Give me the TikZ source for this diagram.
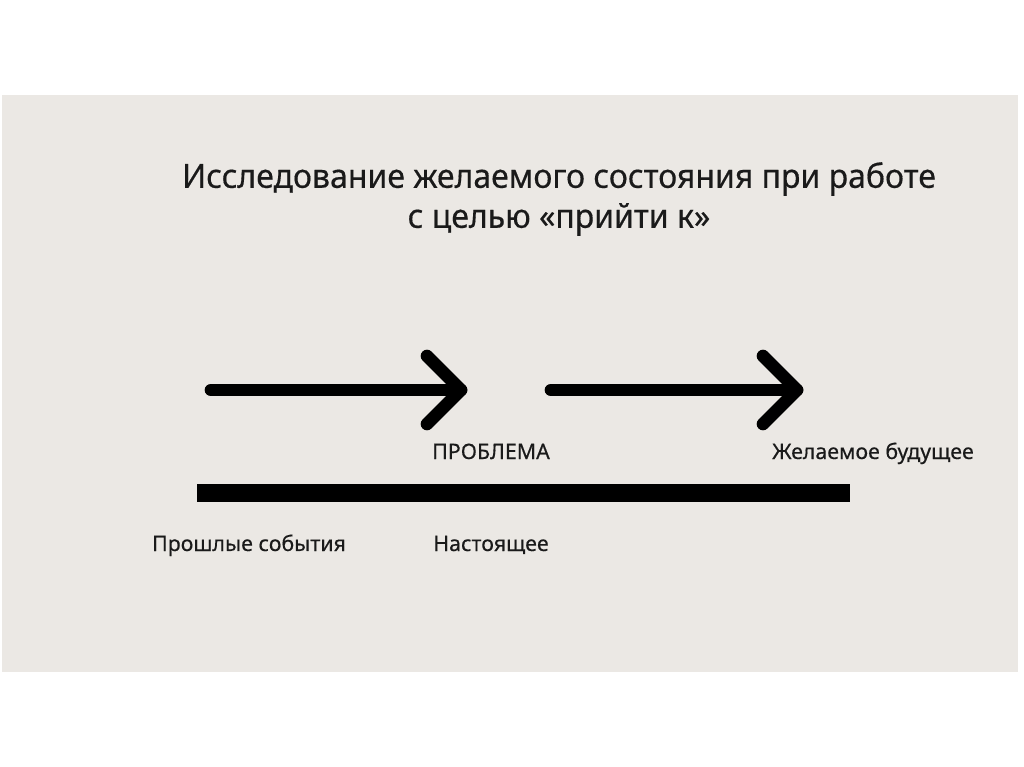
\documentclass[tikz,border=0pt]{standalone}
\usepackage{fontspec}
\setmainfont[FakeBold=0.4]{Noto Sans}
\newfontfamily\titlefont[FakeStretch=0.96,FakeBold=0.4]{Noto Sans}
\usepackage{xcolor}
\usetikzlibrary{positioning}
\definecolor{panelbg}{HTML}{EBE8E4}
\definecolor{inkdark}{HTML}{1A1A1A}

\begin{document}
\begin{tikzpicture}[
  x=0.75pt, y=-0.75pt,
  titletxt/.style={
    align=center, font=\titlefont\fontsize{25}{30}\selectfont, text=inkdark,
    inner sep=0pt
  },
  lbl/.style={
    font=\fontsize{16}{18}\selectfont, text=inkdark, inner sep=0pt,
    anchor=base
  },
  shaft/.style={line width=9.5pt, line cap=round, line join=round, black},
  timebar/.style={line width=13.5pt, black}
]

%=== PAGE AND PANEL ===
\useasboundingbox (0,0) rectangle (1024,767);
\fill[white] (0,0) rectangle (1024,767);
\fill[panelbg] (2,95) rectangle (1018,672);

%=== TITLE ===
\node[titletxt] (title) at (559,199)
  {Исследование желаемого состояния при работе\\с целью «прийти к»};

%=== ARROWS ===
\coordinate (a1s) at (211,390);
\coordinate (a1e) at (461,390);
\coordinate (a2s) at (551,390);
\coordinate (a2e) at (797,390);
\draw[shaft] (a1s) -- (a1e);
\draw[shaft] ([shift={(-34,-34)}]a1e) -- (a1e) -- ([shift={(-34,34)}]a1e);
\draw[shaft] (a2s) -- (a2e);
\draw[shaft] ([shift={(-34,-34)}]a2e) -- (a2e) -- ([shift={(-34,34)}]a2e);

%=== TIMELINE BAR ===
\coordinate (bl) at (197,493);
\coordinate (br) at (850,493);
\draw[timebar] (bl) -- (br);

%=== LABELS ===
\node[lbl] (prob)   at (491,459) {ПРОБЛЕМА};
\node[lbl] (future) at (873,459) {Желаемое будущее};
\node[lbl] (past)   at (249,551) {Прошлые события};
\node[lbl] (now)    at (491,551) {Настоящее};

\end{tikzpicture}
\end{document}
